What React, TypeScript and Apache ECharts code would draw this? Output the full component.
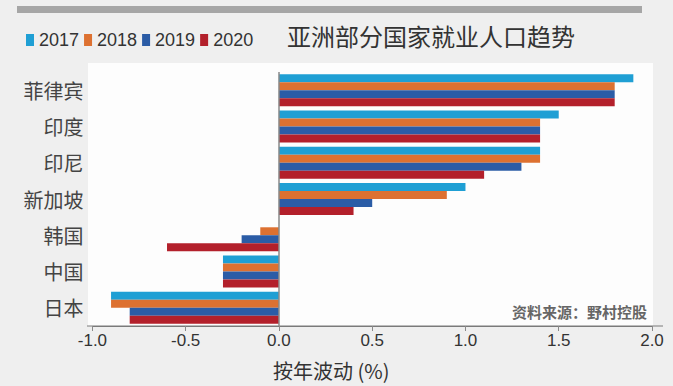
import React, { useEffect, useRef } from "react";
import * as echarts from "echarts";

const categories = ["菲律宾", "印度", "印尼", "新加坡", "韩国", "中国", "日本"];
const seriesNames = ["2017", "2018", "2019", "2020"];
const values2017 = [1.9, 1.5, 1.4, 1.0, 0, -0.3, -0.9];
const values2018 = [1.8, 1.4, 1.4, 0.9, -0.1, -0.3, -0.9];
const values2019 = [1.8, 1.4, 1.3, 0.5, -0.2, -0.3, -0.8];
const values2020 = [1.8, 1.4, 1.1, 0.4, -0.6, -0.3, -0.8];
const colors = ["#1f9fd4", "#dd7131", "#2b5ca6", "#b3202b"];
const title = "亚洲部分国家就业人口趋势";
const axisName = "按年波动 (%)";
const sourceText = "资料来源：野村控股";

export default function App() {
  const ref = useRef<HTMLDivElement>(null);
  useEffect(() => {
    if (!ref.current) return;
    const chart = echarts.init(ref.current, null, { renderer: "svg" });
    const allValues = [values2017, values2018, values2019, values2020];
    const option: any = {
      animation: false,
      backgroundColor: "#efefef",
      textStyle: { fontFamily: "'Liberation Sans', 'Noto Sans CJK SC', sans-serif" },
      graphic: [
        { type: "rect", z: -10, shape: { x: 17, y: 6, width: 625, height: 7 }, style: { fill: "#a6a6a6" } },
        { type: "rect", z: -10, shape: { x: 88, y: 63, width: 565, height: 263 }, style: { fill: "#fdfdfd" } },
        { type: "line", z: -5, shape: { x1: 87, y1: 326, x2: 663, y2: 326 }, style: { stroke: "#7a7a7a", lineWidth: 1 } },
        {
          type: "text",
          x: 287,
          y: 35,
          style: {
            text: title,
            fontSize: 24,
            fill: "#333333",
            fontFamily: "'Noto Sans CJK SC', sans-serif",
            textVerticalAlign: "middle",
          },
        },
        {
          type: "text",
          x: 647,
          y: 311,
          style: {
            text: sourceText,
            fontSize: 15,
            fontWeight: "bold",
            fill: "#666666",
            fontFamily: "'Noto Sans CJK SC', serif",
            textAlign: "right",
            textVerticalAlign: "middle",
          },
        },
      ],
      legend: {
        data: seriesNames,
        left: 21,
        top: 26,
        itemWidth: 8,
        itemHeight: 12,
        itemGap: 5,
        icon: "rect",
        textStyle: { fontSize: 18, color: "#333333", fontFamily: "'Liberation Sans', sans-serif" },
      },
      grid: { left: 92.4, right: 21, top: 72, bottom: 60, containLabel: false },
      xAxis: {
        type: "value",
        min: -1,
        max: 2,
        interval: 0.5,
        name: axisName,
        nameLocation: "middle",
        nameGap: 34,
        nameTextStyle: {
          fontSize: 20,
          color: "#333333",
          fontFamily: "'Noto Sans CJK SC', sans-serif",
          padding: [0, 82, 0, 0],
        },
        axisLine: { show: true, onZero: false, lineStyle: { color: "#7a7a7a", width: 1 } },
        axisTick: { show: true, length: 5, lineStyle: { color: "#8a8a8a" } },
        axisLabel: {
          fontSize: 17,
          color: "#333333",
          margin: 6,
          fontFamily: "'Liberation Sans Narrow', 'Liberation Sans', sans-serif",
          formatter: (v: number) => v.toFixed(1),
        },
        splitLine: { show: false },
      },
      yAxis: {
        type: "category",
        data: categories,
        inverse: true,
        axisLine: { show: false },
        axisTick: { show: false },
        axisLabel: {
          fontSize: 20,
          color: "#444444",
          margin: 9,
          fontFamily: "'Noto Sans CJK SC', sans-serif",
        },
      },
      series: seriesNames.map((name, i) => ({
        name,
        type: "bar",
        data: allValues[i],
        barWidth: 8,
        barGap: "0%",
        itemStyle: { color: colors[i] },
        ...(i === 0
          ? {
              markLine: {
                silent: true,
                symbol: ["none", "none"],
                label: { show: false },
                lineStyle: { color: "#888888", width: 1.5, type: "solid" },
                data: [{ xAxis: 0 }],
              },
            }
          : {}),
      })),
    };
    chart.setOption(option);
    return () => chart.dispose();
  }, []);
  return <div ref={ref} style={{ position: "fixed", left: 0, top: 0, width: 673, height: 386 }} />;
}
